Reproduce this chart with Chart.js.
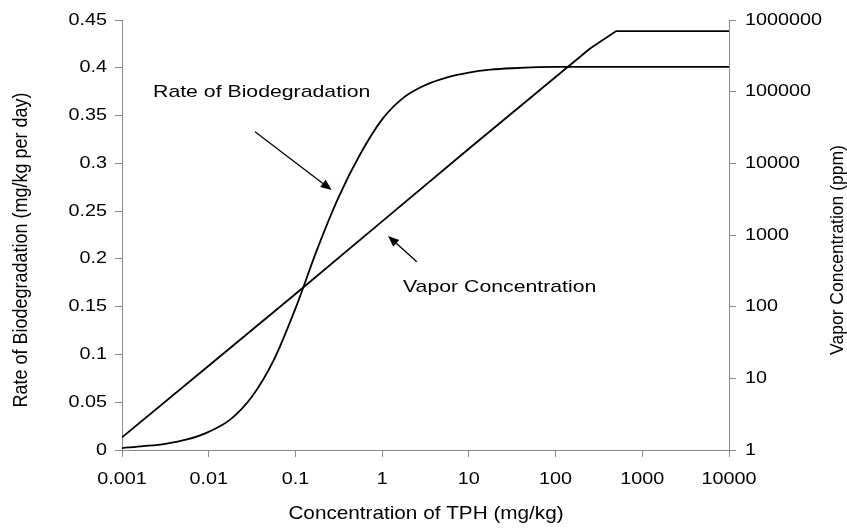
<!DOCTYPE html>
<html>
<head>
<meta charset="utf-8">
<script src="https://cdn.jsdelivr.net/npm/chart.js@4/dist/chart.umd.min.js"></script>
<style>
  html, body { margin: 0; padding: 0; background: #fff; }
  canvas { display: block; }
</style>
</head>
<body>
<canvas id="chart" width="847" height="529"></canvas>
<script>
// Concentration of TPH (mg/kg) against biodegradation rate
const bioConc = [0.001, 0.00178, 0.00316, 0.00562, 0.01, 0.0178, 0.0316, 0.0562, 0.1, 0.178, 0.316, 0.562, 1, 1.78, 3.16, 5.62, 10, 17.8, 31.6, 100, 10000];
const bioRate = [0.002, 0.004, 0.0065, 0.011, 0.019, 0.032, 0.056, 0.094, 0.148, 0.210, 0.265, 0.310, 0.346, 0.369, 0.382, 0.390, 0.395, 0.398, 0.3995, 0.401, 0.401];

// same x, vapour concentration in ppm
const vaporConc = [0.001, 0.01, 0.1, 1, 10, 100, 250, 500, 10000];
const vaporPpm = [1.5, 15, 150, 1550, 16000, 160000, 400000, 700000, 700000];

const xTicks = [0.001, 0.01, 0.1, 1, 10, 100, 1000, 10000];
const xTickLabels = ['0.001', '0.01', '0.1', '1', '10', '100', '1000', '10000'];
const rateTicks = [0, 0.05, 0.1, 0.15, 0.2, 0.25, 0.3, 0.35, 0.4, 0.45];
const rateTickLabels = ['0', '0.05', '0.1', '0.15', '0.2', '0.25', '0.3', '0.35', '0.4', '0.45'];
const ppmTicks = [1, 10, 100, 1000, 10000, 100000, 1000000];
const ppmTickLabels = ['1', '10', '100', '1000', '10000', '100000', '1000000'];

// annotation labels, anchored in data units (x, rate)
const notes = [
  { text: 'Rate of Biodegradation', at: [0.00228, 0.374], from: [0.0342, 0.333], to: [0.262, 0.272] },
  { text: 'Vapor Concentration', at: [1.74, 0.170], from: [2.51, 0.197], to: [1.17, 0.224] }
];

const FONT = '"Liberation Sans", Arial, sans-serif';
const AXIS = '#8a8a8a';
const STRETCH = 1.2; // the scan is a bit wider than it is tall

function pairs(xs, ys) {
  return xs.map((x, i) => ({ x: x, y: ys[i] }));
}

const fixedTicks = list => scale => { scale.ticks = list.map(v => ({ value: v })); };

// text drawn wider than normal, to match the scanned lettering
function wideText(ctx, text, x, y, align, size, sx) {
  ctx.save();
  ctx.font = size + 'px ' + FONT;
  ctx.textAlign = align;
  ctx.textBaseline = 'middle';
  ctx.translate(x, y);
  ctx.scale(sx, 1);
  ctx.fillText(text, 0, 0);
  ctx.restore();
}

function upText(ctx, text, x, y, size, sx) {
  ctx.save();
  ctx.font = size + 'px ' + FONT;
  ctx.textAlign = 'center';
  ctx.textBaseline = 'middle';
  ctx.translate(x, y);
  ctx.scale(sx, 1);
  ctx.rotate(-Math.PI / 2);
  ctx.fillText(text, 0, 0);
  ctx.restore();
}

// tick labels, arrows, annotation text and axis titles
const decorations = {
  id: 'decorations',
  afterDatasetsDraw(chart) {
    const { ctx, scales } = chart;
    const px = v => scales.x.getPixelForValue(v);
    const py = v => scales.y.getPixelForValue(v);
    ctx.save();
    ctx.fillStyle = '#000';
    ctx.strokeStyle = '#000';

    // tick labels
    xTicks.forEach((v, i) => wideText(ctx, xTickLabels[i], px(v), 479, 'center', 16.5, STRETCH));
    rateTicks.forEach((v, i) => wideText(ctx, rateTickLabels[i], 107, py(v), 'right', 16.5, STRETCH));
    ppmTicks.forEach((v, i) => wideText(ctx, ppmTickLabels[i], 745, scales.y2.getPixelForValue(v), 'left', 16.5, STRETCH));

    // annotations with arrows
    notes.forEach(n => {
      wideText(ctx, n.text, px(n.at[0]), py(n.at[1]), 'left', 17, 1.25);
      const x1 = px(n.from[0]), y1 = py(n.from[1]);
      const x2 = px(n.to[0]), y2 = py(n.to[1]);
      const ang = Math.atan2(y2 - y1, x2 - x1);
      const len = 11, half = 4.5;
      const bx = x2 - len * Math.cos(ang), by = y2 - len * Math.sin(ang);
      ctx.lineWidth = 1.3;
      ctx.beginPath();
      ctx.moveTo(x1, y1);
      ctx.lineTo(bx, by);
      ctx.stroke();
      ctx.beginPath();
      ctx.moveTo(x2, y2);
      ctx.lineTo(bx + half * Math.sin(ang), by - half * Math.cos(ang));
      ctx.lineTo(bx - half * Math.sin(ang), by + half * Math.cos(ang));
      ctx.closePath();
      ctx.fill();
    });

    // axis titles
    wideText(ctx, 'Concentration of TPH (mg/kg)', 426, 514, 'center', 18.5, 1.12);
    upText(ctx, 'Rate of Biodegradation (mg/kg per day)', 22, 250, 18, 1.1);
    upText(ctx, 'Vapor Concentration (ppm)', 838, 250, 17.5, 1.1);
    ctx.restore();
  }
};

const axisGrid = { drawOnChartArea: false, drawTicks: true, tickLength: 7, color: AXIS };

new Chart(document.getElementById('chart'), {
  type: 'line',
  data: {
    datasets: [
      {
        label: 'Rate of Biodegradation',
        data: pairs(bioConc, bioRate),
        yAxisID: 'y',
        borderColor: '#000',
        borderWidth: 1.8,
        pointRadius: 0,
        cubicInterpolationMode: 'monotone',
        fill: false
      },
      {
        label: 'Vapor Concentration',
        data: pairs(vaporConc, vaporPpm),
        yAxisID: 'y2',
        borderColor: '#000',
        borderWidth: 1.8,
        pointRadius: 0,
        tension: 0,
        fill: false
      }
    ]
  },
  options: {
    responsive: false,
    animation: false,
    layout: { padding: { top: 20, left: 0, right: 0, bottom: 0 } },
    plugins: { legend: { display: false }, tooltip: { enabled: false } },
    scales: {
      x: {
        type: 'logarithmic',
        min: 0.001,
        max: 10000,
        afterBuildTicks: fixedTicks(xTicks),
        afterFit: s => { s.height = 79; },
        grid: axisGrid,
        border: { color: AXIS, width: 1 },
        ticks: { display: false, autoSkip: false }
      },
      y: {
        type: 'linear',
        position: 'left',
        min: 0,
        max: 0.45,
        afterBuildTicks: fixedTicks(rateTicks),
        afterFit: s => { s.width = 122; },
        grid: axisGrid,
        border: { color: AXIS, width: 1 },
        ticks: { display: false, autoSkip: false }
      },
      y2: {
        type: 'logarithmic',
        position: 'right',
        min: 1,
        max: 1000000,
        afterBuildTicks: fixedTicks(ppmTicks),
        afterFit: s => { s.width = 118; },
        grid: axisGrid,
        border: { color: AXIS, width: 1 },
        ticks: { display: false, autoSkip: false }
      }
    }
  },
  plugins: [decorations]
});
</script>
</body>
</html>
